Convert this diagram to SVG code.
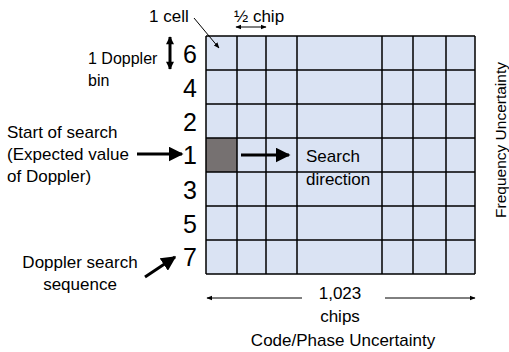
<svg xmlns="http://www.w3.org/2000/svg" width="509" height="352" viewBox="0 0 509 352">
  <style>
    .lbl { font-family: "Liberation Sans", Arial, sans-serif; font-size: 17px; fill: #000; }
    .num { font-family: "Liberation Sans", Arial, sans-serif; font-size: 25px; fill: #000; text-anchor: end; }
    .cell { fill: #DAE3F3; }
    .grid { stroke: #000; stroke-width: 1.5; fill: none; }
    .thin { stroke: #000; stroke-width: 1; fill: none; }
    .thick { stroke: #000; stroke-width: 3; fill: none; }
  </style>
  <defs>
    <marker id="headSmall" viewBox="0 0 10 10" refX="9" refY="5" markerWidth="6" markerHeight="6" orient="auto-start-reverse" markerUnits="userSpaceOnUse">
      <path d="M0,1 L10,5 L0,9 z" fill="#000"/>
    </marker>
    <marker id="headBig" viewBox="0 0 10 10" refX="9" refY="5" markerWidth="5" markerHeight="5" orient="auto-start-reverse">
      <path d="M0,0 L10,5 L0,10 z" fill="#000"/>
    </marker>
    <marker id="headBin" viewBox="0 0 10 10" refX="9" refY="5" markerWidth="9" markerHeight="8" orient="auto-start-reverse" markerUnits="userSpaceOnUse">
      <path d="M0,0 L10,5 L0,10 z" fill="#000"/>
    </marker>
  </defs>

  <!-- search grid -->
  <g id="grid">
    <rect class="cell" x="206" y="36" width="269" height="238"/>
    <rect x="206" y="138" width="31" height="34" fill="#767171"/>
    <path class="grid" d="M206,36 H475 M206,70 H475 M206,104 H475 M206,138 H475 M206,172 H475 M206,206 H475 M206,240 H475 M206,274 H475
      M206,36 V274 M237,36 V274 M266,36 V274 M297,36 V274 M382,36 V274 M413,36 V274 M446,36 V274 M475,36 V274"/>
  </g>

  <!-- Doppler bin order -->
  <g id="bin-numbers">
    <text class="num" x="197" y="63">6</text>
    <text class="num" x="197" y="97">4</text>
    <text class="num" x="197" y="131">2</text>
    <text class="num" x="197" y="164">1</text>
    <text class="num" x="197" y="199">3</text>
    <text class="num" x="197" y="233">5</text>
    <text class="num" x="197" y="266">7</text>
  </g>

  <g id="label-cell">
    <text class="lbl" x="149" y="22">1 cell</text>
  </g>
  <g id="label-half-chip">
    <text class="lbl" x="234" y="22">½ chip</text>
  </g>
  <g id="label-bin">
    <text class="lbl" x="88" y="64" style="font-size:16px">1 Doppler</text>
    <text class="lbl" x="88" y="86" style="font-size:16px">bin</text>
  </g>
  <g id="label-start">
    <text class="lbl" x="7" y="138">Start of search</text>
    <text class="lbl" x="7" y="160">(Expected value</text>
    <text class="lbl" x="7" y="182">of Doppler)</text>
  </g>
  <g id="label-sequence">
    <text class="lbl" x="80" y="268" text-anchor="middle">Doppler search</text>
    <text class="lbl" x="80" y="290" text-anchor="middle">sequence</text>
  </g>
  <g id="label-direction">
    <text class="lbl" x="306" y="162">Search</text>
    <text class="lbl" x="306" y="185">direction</text>
  </g>
  <g id="label-chips">
    <text class="lbl" x="340" y="299" text-anchor="middle">1,023</text>
    <text class="lbl" x="340" y="322" text-anchor="middle">chips</text>
    <text class="lbl" x="343" y="346" text-anchor="middle">Code/Phase Uncertainty</text>
  </g>
  <g id="label-frequency">
    <text class="lbl" style="font-size:15.5px" transform="translate(506,140) rotate(-90)" text-anchor="middle">Frequency Uncertainty</text>
  </g>

  <!-- connectors -->
  <g id="connectors">
    <path class="thin" d="M194,18 L219,48" marker-end="url(#headSmall)"/>
    <path class="thin" d="M236,27 L266,27" marker-start="url(#headSmall)" marker-end="url(#headSmall)"/>
    <path class="thick" d="M170,37 L170,69" stroke-width="2.5" marker-start="url(#headBin)" marker-end="url(#headBin)"/>
    <path class="thick" d="M137,154 L182,154" marker-end="url(#headBig)"/>
    <path class="thick" d="M241,155 L289,155" marker-end="url(#headBig)"/>
    <path class="thick" d="M145,277 L175,257" marker-end="url(#headBig)"/>
    <path class="thin" d="M302,298 L207,298" marker-end="url(#headSmall)"/>
    <path class="thin" d="M385,298 L475,298" marker-end="url(#headSmall)"/>
  </g>
</svg>
